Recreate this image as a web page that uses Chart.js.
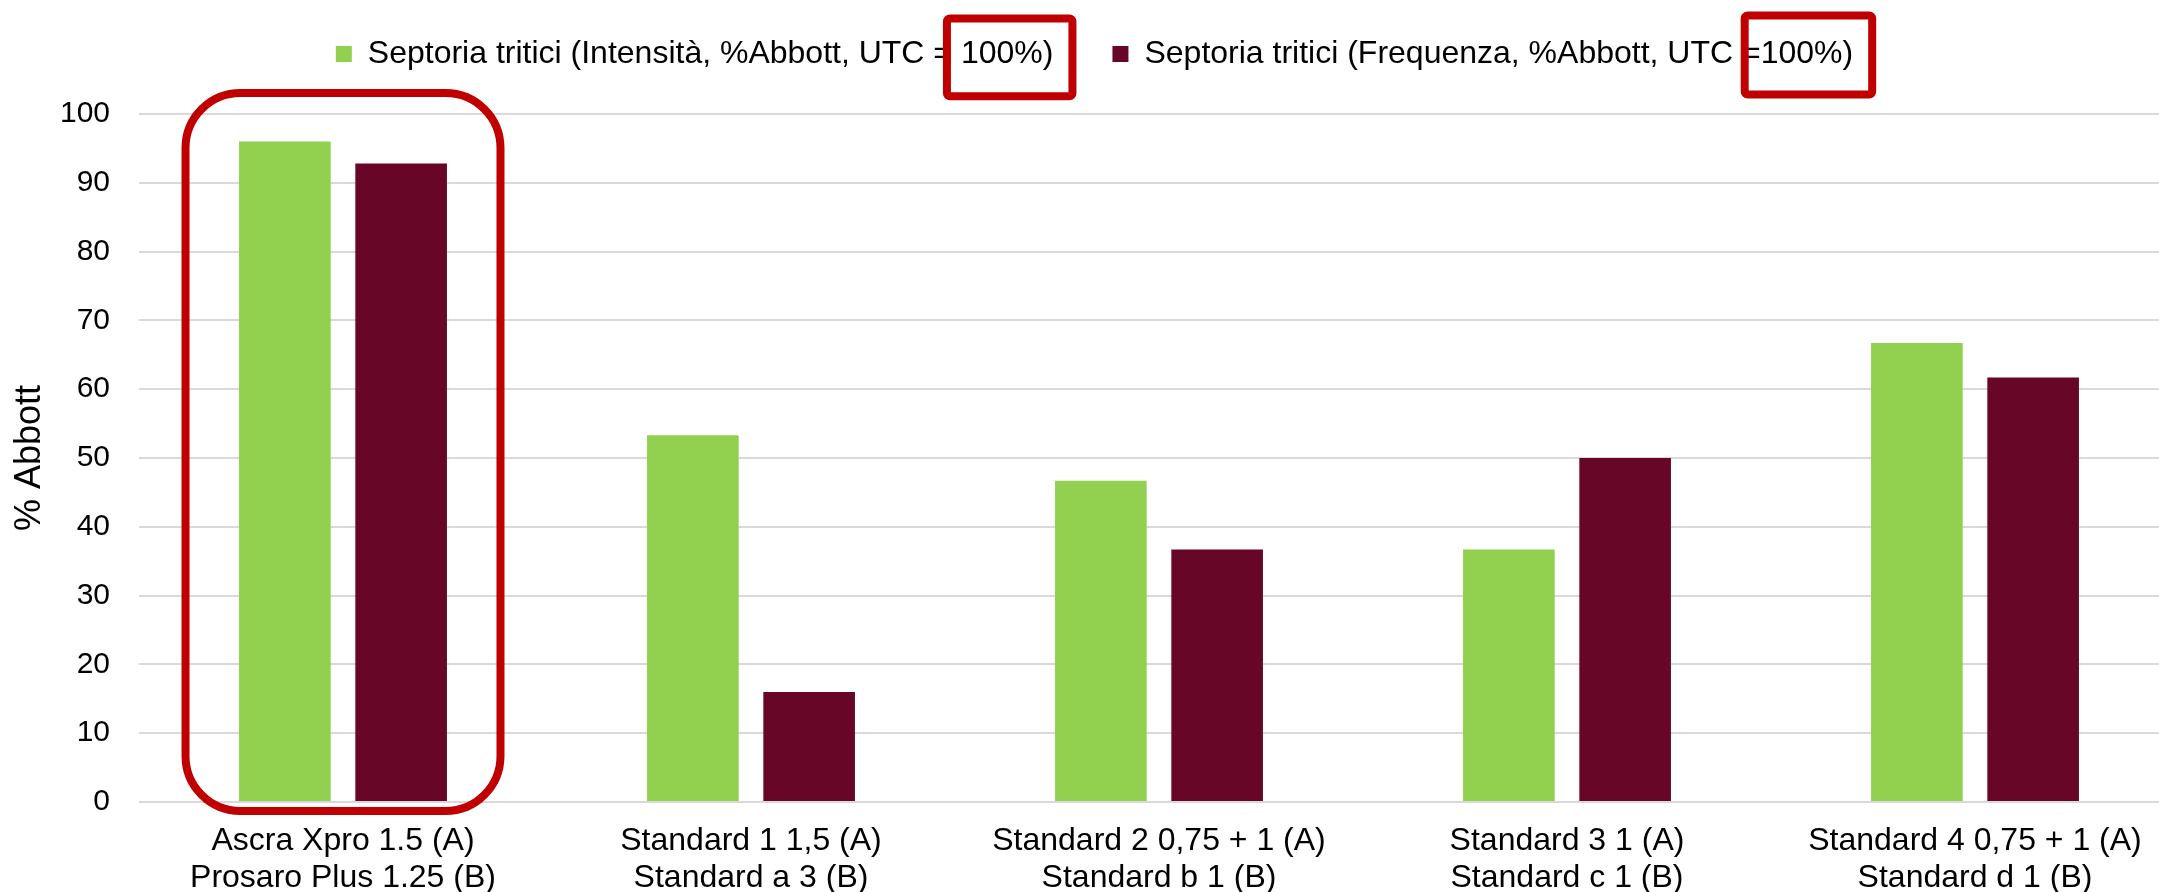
<!DOCTYPE html>
<html>
<head>
<meta charset="utf-8">
<title>Septoria tritici - % Abbott</title>
<script src="https://cdn.jsdelivr.net/npm/chart.js@4.4.0/dist/chart.umd.min.js"></script>
<style>
  html, body { margin: 0; padding: 0; background: #fff; overflow: hidden; }
  body { width: 2159px; height: 892px; }
  /* il grafico originale e' tagliato a destra: l'area del grafico continua oltre il bordo */
  #contenitore { width: 2179px; height: 892px; }
</style>
</head>
<body>
<div id="contenitore"><canvas id="grafico"></canvas></div>
<script>
// dati
const trattamenti = [
    ['Ascra Xpro 1.5 (A)', 'Prosaro Plus 1.25 (B)'],
    ['Standard 1 1,5 (A)', 'Standard a 3 (B)'],
    ['Standard 2 0,75 + 1 (A)', 'Standard b 1 (B)'],
    ['Standard 3 1 (A)', 'Standard c 1 (B)'],
    ['Standard 4 0,75 + 1 (A)', 'Standard d 1 (B)']
];
const nomiSerie = [
    'Septoria tritici (Intensità, %Abbott, UTC = 100%)',
    'Septoria tritici (Frequenza, %Abbott, UTC =100%)'
];
const intensita = [96, 53.3, 46.7, 36.7, 66.7];
const frequenza = [92.8, 16, 36.7, 50, 61.7];
const asseY = { min: 0, max: 100, passo: 10 };
const titoloY = '% Abbott';

const FONT = '"Liberation Sans", Arial, sans-serif';
const fontLegenda = 32;
const boxLegenda = 16;
const rosso = '#c00000';

Chart.defaults.font.family = FONT;
Chart.defaults.color = '#000';

// spazio in piu' sotto la legenda
const spazioLegenda = {
    id: 'spazioLegenda',
    afterInit(chart) {
        const leg = chart.legend;
        const fit = leg.fit;
        leg.fit = function () {
            fit.call(this);
            this.height += 34;
        };
    }
};

// riquadri rossi di evidenziazione
const riquadri = {
    id: 'riquadri',
    afterDraw(chart) {
        const { ctx, scales: { x, y } } = chart;
        ctx.save();
        ctx.strokeStyle = rosso;
        ctx.lineWidth = 8;

        // primo gruppo di barre
        const cx = x.getPixelForValue(0);
        const meta = x.width / trattamenti.length * 0.386;
        const alto = y.getPixelForValue(asseY.max) - 21;
        const basso = y.getPixelForValue(asseY.min) + 9;
        ctx.beginPath();
        ctx.roundRect(cx - meta, alto, meta * 2, basso - alto, 55);
        ctx.stroke();

        // "100%)" nella legenda
        const margini = [[14, 35.5, 42.3], [16, 38.5, 40.5]];
        const leg = chart.legend;
        ctx.font = fontLegenda + 'px ' + FONT;
        leg.legendItems.forEach((item, i) => {
            const hb = leg.legendHitBoxes[i];
            const k = item.text.indexOf('100%');
            const inizio = hb.left + boxLegenda + fontLegenda / 2 + ctx.measureText(item.text.slice(0, k)).width;
            const fine = inizio + ctx.measureText(item.text.slice(k)).width + 19;
            const cy = hb.top + hb.height / 2;
            const m = margini[i];
            ctx.beginPath();
            ctx.roundRect(inizio - m[0], cy - m[1], fine - inizio + m[0], m[1] + m[2], 3);
            ctx.stroke();
        });
        ctx.restore();
    }
};

new Chart(document.getElementById('grafico'), {
    type: 'bar',
    data: {
        labels: trattamenti,
        datasets: [{
            label: nomiSerie[0],
            data: intensita,
            backgroundColor: '#92d050',
            borderWidth: 0,
            categoryPercentage: 0.57,
            barPercentage: 0.788
        }, {
            label: nomiSerie[1],
            data: frequenza,
            backgroundColor: '#680627',
            borderWidth: 0,
            categoryPercentage: 0.57,
            barPercentage: 0.788
        }]
    },
    options: {
        responsive: true,
        maintainAspectRatio: false,
        animation: false,
        devicePixelRatio: 1,
        layout: {
            padding: { top: -21, left: 10, right: 0, bottom: 0 }
        },
        plugins: {
            legend: {
                position: 'top',
                labels: {
                    boxWidth: boxLegenda,
                    boxHeight: boxLegenda,
                    padding: 59,
                    color: '#000',
                    font: { size: fontLegenda }
                }
            },
            tooltip: { enabled: false }
        },
        scales: {
            x: {
                grid: { display: false },
                border: { display: false },
                ticks: {
                    color: '#000',
                    padding: 13,
                    maxRotation: 0,
                    autoSkip: false,
                    font: { size: 32, lineHeight: 1.156 }
                },
                afterFit(scale) { scale.height = 90; }
            },
            y: {
                min: asseY.min,
                max: asseY.max,
                grid: { color: '#d9d9d9', lineWidth: 2, drawTicks: false },
                border: { display: false },
                ticks: {
                    stepSize: asseY.passo,
                    color: '#000',
                    padding: 29,
                    font: { size: 30 }
                },
                title: {
                    display: true,
                    text: titoloY,
                    color: '#000',
                    padding: { top: -1.6, bottom: 0 },
                    font: { size: 36 }
                },
                afterFit(scale) { scale.width = 129; }
            }
        }
    },
    plugins: [spazioLegenda, riquadri]
});
</script>
</body>
</html>
